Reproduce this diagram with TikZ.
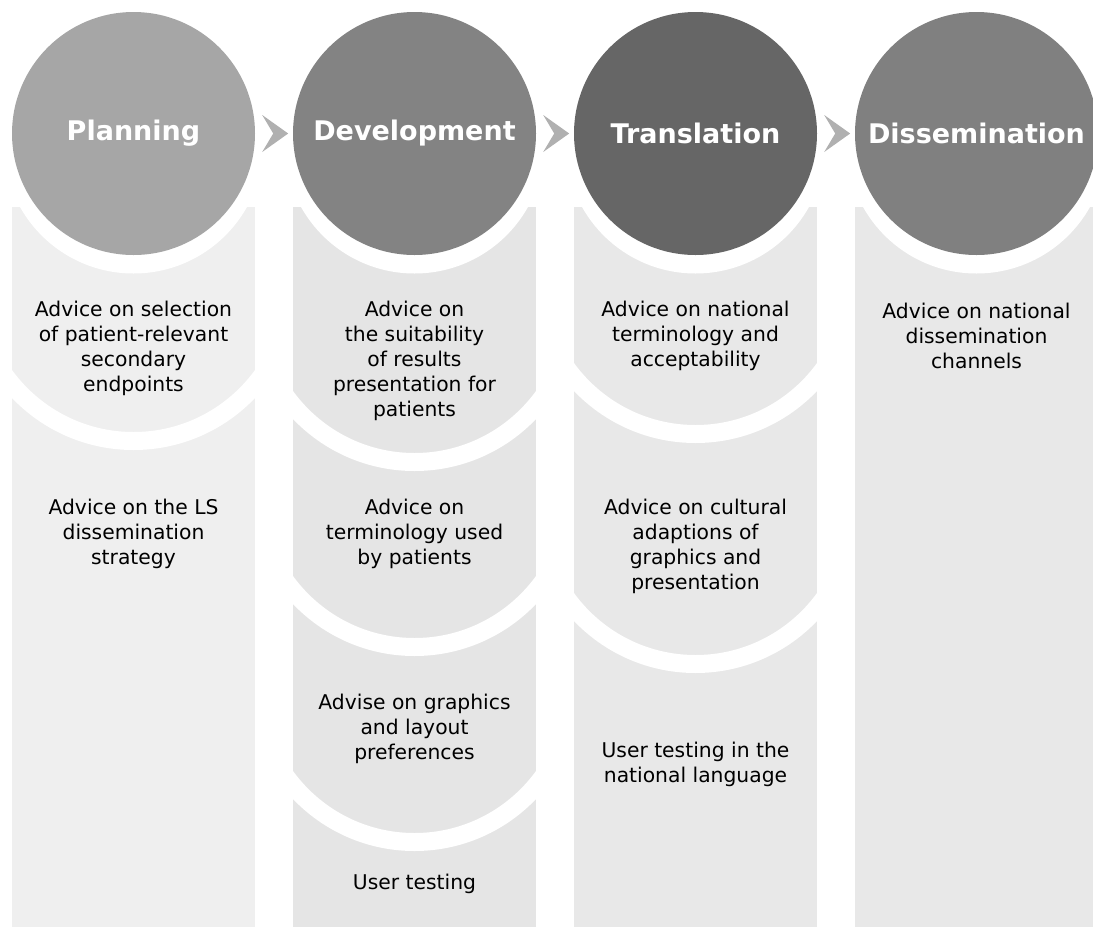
\documentclass[tikz,border=0pt]{standalone}
\usepackage{fontspec}
\setmainfont{DejaVu Sans}
\usetikzlibrary{calc}
\definecolor{plandark}{HTML}{A6A6A6}
\definecolor{planlight}{HTML}{EFEFEF}
\definecolor{devdark}{HTML}{838383}
\definecolor{devlight}{HTML}{E5E5E5}
\definecolor{transdark}{HTML}{666666}
\definecolor{translight}{HTML}{E8E8E8}
\definecolor{dissdark}{HTML}{808080}
\definecolor{disslight}{HTML}{E8E8E8}
\definecolor{chevgray}{HTML}{B0B0B0}
\tikzstyle{phase} = [circle, minimum size = 243pt, inner sep = 0pt, text = white, font = \fontsize{27}{32}\selectfont\bfseries]
\tikzstyle{advice} = [align = center, font = \fontsize{20.3}{25}\selectfont]
\tikzstyle{chev} = [fill = chevgray]
\tikzstyle{gap} = [fill = white, even odd rule]

% one column: left edge, light colour, lower edges of the stacked segments
\newcommand{\phasecolumn}[3]{%
  \fill[#2] (#1,207) rectangle ++(243,720);
  \begin{scope}
    \clip (#1,207) rectangle ++(243,720);
    \fill[white] (#1+121.5,143.5) circle (130pt);
    \foreach \yb in {#3} {
      \begin{scope}
        \clip (#1,\yb-150) rectangle ++(243,400);
        \fill[gap] (#1+121.5,\yb-150) circle (168pt) (#1+121.5,\yb-150) circle (150pt);
      \end{scope}
    }
  \end{scope}}

\begin{document}
\begin{tikzpicture}[x=1pt, y=-1pt]
\useasboundingbox (0,0) rectangle (1093,927);
\clip (0,0) rectangle (1093,927);

\phasecolumn{12}{planlight}{432}
\phasecolumn{293}{devlight}{453,638,833}
\phasecolumn{574}{translight}{425,655}
\phasecolumn{855}{disslight}{}

\node[phase, fill = plandark] (plan) at (133.5,133.5) {Planning};
\node[phase, fill = devdark] (dev) at (414.5,133.5) {Development};
\node[phase, fill = transdark] (trans) at (695.5,133.5) {Translation};
\node[phase, fill = dissdark] (diss) at (976.5,133.5) {Dissemination};

\foreach \n in {plan,dev,trans}
  \fill[chev] ($(\n.east)+(7,-18.5)$) -- ++(26,18.5) -- ++(-26,18.5) -- ++(11,-18.5) -- cycle;

\node[advice] (plan1) at (133.5,348.5) {Advice on selection\\of patient-relevant\\secondary\\endpoints};
\node[advice] (plan2) at (133.5,534) {Advice on the LS\\dissemination\\strategy};

\node[advice] (dev1) at (414.5,361) {Advice on\\the suitability\\of results\\presentation for\\patients};
\node[advice] (dev2) at (414.5,534) {Advice on\\terminology used\\by patients};
\node[advice] (dev3) at (414.5,729) {Advise on graphics\\and layout\\preferences};
\node[advice] (dev4) at (414.5,884) {User testing};

\node[advice] (trans1) at (695.5,336) {Advice on national\\terminology and\\acceptability};
\node[advice] (trans2) at (695.5,546.5) {Advice on cultural\\adaptions of\\graphics and\\presentation};
\node[advice] (trans3) at (695.5,764) {User testing in the\\national language};

\node[advice] (diss1) at (976.5,336) {Advice on national\\dissemination\\channels};
\end{tikzpicture}
\end{document}
